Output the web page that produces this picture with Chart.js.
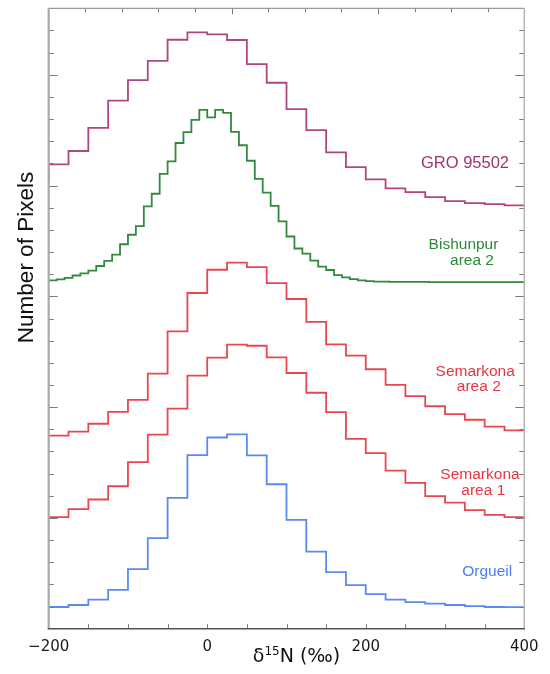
<!DOCTYPE html>
<html>
<head>
<meta charset="utf-8">
<script src="https://cdn.jsdelivr.net/npm/chart.js@4.4.1/dist/chart.umd.min.js"></script>
<style>
  html, body { margin: 0; padding: 0; background: #ffffff; }
  #wrap { width: 550px; height: 674px; }
</style>
</head>
<body>
<div id="wrap"><canvas id="histChart" width="550" height="674"></canvas></div>
<script>
// x axis (delta 15N, permil)
const xMin = -200;
const xMax = 400;
const xTickLabels = [-200, 0, 200, 400];

// GRO 95502, bins of 25 permil, first bin starts just left of the axis
const groStart = -225;
const groWidth = 25;
const groCounts = [20.20, 20.96, 21.56, 22.60, 23.83, 24.76, 25.63, 26.58, 26.91, 26.82, 26.57, 25.48,
  24.64, 23.45, 22.50, 21.50, 20.83, 20.28, 19.87, 19.70, 19.48, 19.30, 19.21, 19.16, 19.11];

// Bishunpur area 2, bins of 10 permil
const bishStart = -200;
const bishWidth = 10;
const bishCounts = [15.72, 15.77, 15.83, 15.94, 16.04, 16.16, 16.37, 16.60, 16.88, 17.35,
  17.78, 18.17, 19.06, 19.63, 20.53, 21.09, 21.92, 22.41, 22.96, 23.42,
  23.08, 23.42, 23.28, 22.42, 21.82, 21.12, 20.30, 19.68, 19.08, 18.38,
  17.70, 17.16, 16.93, 16.61, 16.34, 16.19, 15.96, 15.86, 15.78, 15.72,
  15.69, 15.66, 15.66, 15.65, 15.65, 15.65, 15.65, 15.65, 15.64, 15.64,
  15.64, 15.64, 15.64, 15.64, 15.64, 15.64, 15.64, 15.64, 15.64, 15.64];

// Semarkona and Orgueil, bins of 25 permil
const binStart = -200;
const binWidth = 25;
const semarkona2Counts = [8.71, 8.89, 9.25, 9.79, 10.33, 11.51, 13.42, 15.15, 16.20, 16.52, 16.32, 15.60,
  14.88, 13.85, 12.83, 12.32, 11.71, 11.00, 10.50, 10.04, 9.68, 9.43, 9.12, 8.95];
const semarkona1Counts = [5.04, 5.40, 5.83, 6.43, 7.52, 8.76, 9.93, 11.42, 12.23, 12.82, 12.77, 12.25,
  11.54, 10.65, 9.77, 8.57, 7.92, 7.13, 6.58, 5.98, 5.69, 5.35, 5.14, 5.04];
const orgueilCounts = [0.98, 1.07, 1.31, 1.75, 2.69, 4.09, 5.90, 7.83, 8.63, 8.77, 7.82, 6.52,
  4.91, 3.48, 2.55, 1.97, 1.56, 1.31, 1.20, 1.13, 1.07, 1.02, 0.98, 0.97];

const yMax = 28;

// turn bin counts into step points (left edge of each bin + closing right edge)
const toSteps = (start, width, counts) => {
  const pts = counts.map((v, i) => ({ x: start + i * width, y: v }));
  pts.push({ x: start + counts.length * width, y: counts[counts.length - 1] });
  return pts;
};

const seriesLabels = [
  { lines: ["GRO 95502"], color: "#a3326c", size: 16.5, x: 465, y: [168.3] },
  { lines: ["Bishunpur", "area 2"], color: "#2b8a36", size: 15.5, x: [463.5, 472], y: [249.3, 265] },
  { lines: ["Semarkona", "area 2"], color: "#e8343e", size: 15.5, x: [475.2, 478.8], y: [376, 391.3] },
  { lines: ["Semarkona", "area 1"], color: "#e8343e", size: 15.5, x: [480, 483.3], y: [479, 494.5] },
  { lines: ["Orgueil"], color: "#4a7ef2", size: 15.5, x: 487.2, y: [575.7] },
];

const framePlugin = {
  id: "frame",
  afterDraw: function (chart) {
    const ctx = chart.ctx;
    const { left, right, top, bottom } = chart.chartArea;
    const xs = chart.scales.x;
    const ys = chart.scales.y;
    ctx.save();

    // tick marks pointing inward
    ctx.lineWidth = 1;
    ctx.strokeStyle = "#7a7a7a";
    ctx.beginPath();
    for (let v = 1; v < yMax; v++) {
      const py = Math.round(ys.getPixelForValue(v)) + 0.5;
      const len = v % 5 === 0 ? 9 : 5;
      ctx.moveTo(left, py);
      ctx.lineTo(left + len, py);
      ctx.moveTo(right, py);
      ctx.lineTo(right - len, py);
    }
    for (let v = xMin + 50; v < xMax; v += 50) {
      const px = Math.round(xs.getPixelForValue(v)) + 0.5;
      ctx.moveTo(px, bottom);
      ctx.lineTo(px, bottom - 4.5);
    }
    // top axis carries its own 13 divisions
    for (let i = 1; i < 13; i++) {
      const px = Math.round(left + (i * (right - left)) / 13) + 0.5;
      const len = i === 5 || i === 9 ? 6 : 4;
      ctx.moveTo(px, top);
      ctx.lineTo(px, top + len);
    }
    ctx.stroke();

    // frame
    const line = (x1, y1, x2, y2, color, w) => {
      ctx.beginPath();
      ctx.strokeStyle = color;
      ctx.lineWidth = w;
      ctx.moveTo(x1, y1);
      ctx.lineTo(x2, y2);
      ctx.stroke();
    };
    line(left, top, right, top, "#9a9a9a", 1.2);
    line(right, top, right, bottom, "#b5b5b5", 1.5);
    line(left, top, left, bottom, "#a9a9a9", 2.2);
    line(left - 1, bottom, right + 0.7, bottom, "#555555", 1.6);

    // series labels
    ctx.textAlign = "center";
    ctx.textBaseline = "alphabetic";
    seriesLabels.forEach((lab) => {
      ctx.fillStyle = lab.color;
      ctx.font = lab.size + "px 'Liberation Sans', Arial, sans-serif";
      lab.lines.forEach((txt, i) => {
        const tx = Array.isArray(lab.x) ? lab.x[i] : lab.x;
        ctx.fillText(txt, tx, lab.y[i]);
      });
    });

    // y axis title
    ctx.fillStyle = "#111111";
    ctx.font = "22.5px 'Liberation Sans', Arial, sans-serif";
    ctx.save();
    ctx.translate(32.7, 257.5);
    ctx.rotate(-Math.PI / 2);
    ctx.textAlign = "center";
    ctx.fillText("Number of Pixels", 0, 0);
    ctx.restore();

    // x axis title with superscript
    const parts = [
      { t: "\u03B4", f: "19px 'DejaVu Sans', sans-serif", dy: 0 },
      { t: "15", f: "12px 'DejaVu Sans', sans-serif", dy: -7 },
      { t: "N (\u2030)", f: "19px 'DejaVu Sans', sans-serif", dy: 0 },
    ];
    let total = 0;
    parts.forEach((p) => {
      ctx.font = p.f;
      p.w = ctx.measureText(p.t).width;
      total += p.w;
    });
    let cx = 296.5 - total / 2;
    ctx.textAlign = "left";
    parts.forEach((p) => {
      ctx.font = p.f;
      ctx.fillText(p.t, cx, 662 + p.dy);
      cx += p.w;
    });

    ctx.restore();
  },
};

const createChart = (id) => {
  const canvas = document.getElementById(id);
  if (!canvas) {
    return;
  }
  const ds = (counts, color) => ({
    data: counts,
    borderColor: color,
    borderWidth: 1.8,
    stepped: true,
    fill: false,
    pointRadius: 0,
  });

  return new Chart(canvas.getContext("2d"), {
    type: "line",
    data: {
      datasets: [
        ds(toSteps(groStart, groWidth, groCounts), "#b0467f"),
        ds(toSteps(bishStart, bishWidth, bishCounts), "#33893d"),
        ds(toSteps(binStart, binWidth, semarkona2Counts), "#e9464f"),
        ds(toSteps(binStart, binWidth, semarkona1Counts), "#e9464f"),
        ds(toSteps(binStart, binWidth, orgueilCounts), "#5a89f4"),
      ],
    },
    options: {
      responsive: false,
      animation: false,
      devicePixelRatio: 1,
      layout: { padding: { left: 0, right: 25.7, top: 8.3, bottom: 0 } },
      plugins: {
        legend: { display: false },
        tooltip: { enabled: false },
      },
      scales: {
        x: {
          type: "linear",
          min: xMin,
          max: xMax,
          grid: { display: false, drawTicks: false },
          border: { display: false },
          afterBuildTicks: function (scale) {
            scale.ticks = xTickLabels.map((v) => ({ value: v }));
          },
          afterFit: function (scale) {
            scale.height = 45.3;
            scale.paddingLeft = 0;
            scale.paddingRight = 0;
          },
          ticks: {
            autoSkip: false,
            maxRotation: 0,
            minRotation: 0,
            padding: 9.4,
            color: "#1a1a1a",
            font: { family: "'DejaVu Sans', sans-serif", size: 15 },
            callback: function (value) {
              return value < 0 ? "\u2212" + Math.abs(value) : String(value);
            },
          },
        },
        y: {
          type: "linear",
          min: 0,
          max: yMax,
          grid: { display: false, drawTicks: false },
          border: { display: false },
          ticks: { display: false },
          afterFit: function (scale) {
            scale.width = 48.7;
            scale.paddingTop = 0;
            scale.paddingBottom = 0;
          },
        },
      },
    },
    plugins: [framePlugin],
  });
};

createChart("histChart");
</script>
</body>
</html>
